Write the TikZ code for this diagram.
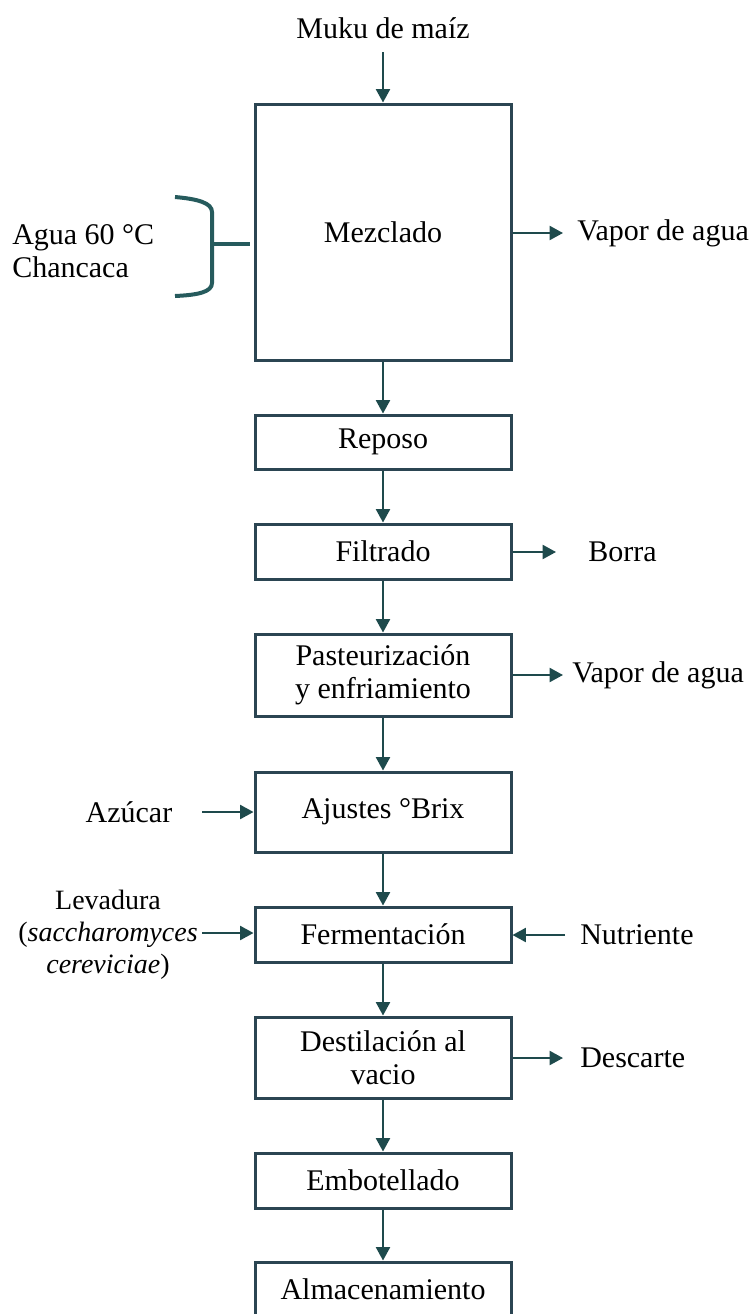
\documentclass[tikz,border=0pt]{standalone}
\usepackage{fontspec}
\setmainfont{Liberation Serif}
\usetikzlibrary{arrows.meta}
\definecolor{boxline}{HTML}{2B4552}
\definecolor{flow}{HTML}{1E4A4C}
\definecolor{bracec}{HTML}{265B5D}

\begin{document}
\begin{tikzpicture}[x=0.75pt,y=-0.75pt,
  every node/.style={font=\fontsize{22.5}{24.75}\selectfont, text=black},
  stage/.style={draw=boxline, line width=2.25pt, minimum width=192pt,
                inner sep=0pt, align=center},
  flowarrow/.style={draw=flow, line width=1.5pt,
                    -{Triangle[length=10pt,width=10.5pt]}},
  lbl/.style={inner sep=0pt, align=center}]
\useasboundingbox (0,0) rectangle (749,1314);

% process stages
\node[stage, minimum height=192pt]   (mez) at (383,232)    {Mezclado};
\node[stage, minimum height=40.5pt]  (rep) at (383,442)    {Reposo};
\node[stage, minimum height=41.25pt] (fil) at (383,551.5)  {Filtrado};
\node[stage, minimum height=61.5pt]  (pas) at (383,675)    {Pasteurización\\y enfriamiento};
\node[stage, minimum height=60pt]    (aju) at (383,812)    {Ajustes °Brix};
\node[stage, minimum height=41.25pt] (fer) at (383,934.5)  {Fermentación};
\node[stage, minimum height=60.75pt] (des) at (383,1057.5) {Destilación al\\vacio};
\node[stage, minimum height=41.25pt] (emb) at (383,1180.5) {Embotellado};
\node[stage, minimum height=41.25pt] (alm) at (383,1289.5) {Almacenamiento};

% inputs and outputs
\node[lbl] (muku) at (383,28) {Muku de maíz};
\node[lbl, anchor=west, align=left] (agua) at (12,251) {Agua 60 °C\\Chancaca};
\node[lbl, anchor=west] (vap1) at (577,233) {Vapor de agua};
\node[lbl, anchor=west] (borra) at (588,552) {Borra};
\node[lbl, anchor=west] (vap2) at (572,675) {Vapor de agua};
\node[lbl] (azu) at (129,812) {Azúcar};
\node[lbl, font=\fontsize{21}{24}\selectfont] (lev) at (108,935)
  {Levadura\\(\textit{saccharomyces}\\\textit{cereviciae})};
\node[lbl, anchor=west] (nut) at (580,935) {Nutriente};
\node[lbl, anchor=west] (desc) at (580,1058) {Descarte};

% free ends of the side connectors
\coordinate (mukuend) at (383,52);
\coordinate (vap1tip) at (563,233);
\coordinate (borratip) at (556,552);
\coordinate (vap2tip) at (563,675);
\coordinate (azustart) at (202,812);
\coordinate (levstart) at (202,933);
\coordinate (nutstart) at (565,935);
\coordinate (desctip) at (563,1058);

% main line
\draw[flowarrow] (mukuend) -- (mez.north);
\draw[flowarrow] (mez.south) -- (rep.north);
\draw[flowarrow] (rep.south) -- (fil.north);
\draw[flowarrow] (fil.south) -- (pas.north);
\draw[flowarrow] (pas.south) -- (aju.north);
\draw[flowarrow] (aju.south) -- (fer.north);
\draw[flowarrow] (fer.south) -- (des.north);
\draw[flowarrow] (des.south) -- (emb.north);
\draw[flowarrow] (emb.south) -- (alm.north);

% side streams
\draw[flowarrow] (mez.east |- vap1tip) -- (vap1tip);
\draw[flowarrow] (fil.east |- borratip) -- (borratip);
\draw[flowarrow] (pas.east |- vap2tip) -- (vap2tip);
\draw[flowarrow] (azustart) -- (aju.west |- azustart);
\draw[flowarrow] (levstart) -- (fer.west |- levstart);
\draw[flowarrow] (nutstart) -- (fer.east |- nutstart);
\draw[flowarrow] (des.east |- desctip) -- (desctip);

% brace gathering the water and chancaca
\coordinate (stemend) at (250,244);
\draw[bracec, line width=3pt]
  (175,197) .. controls (198,199) and (212,203) .. (212,212)
  -- (212,283) .. controls (212,292) and (198,295) .. (175,296);
\draw[bracec, line width=3pt] (212,244) -- (stemend);
\end{tikzpicture}
\end{document}
